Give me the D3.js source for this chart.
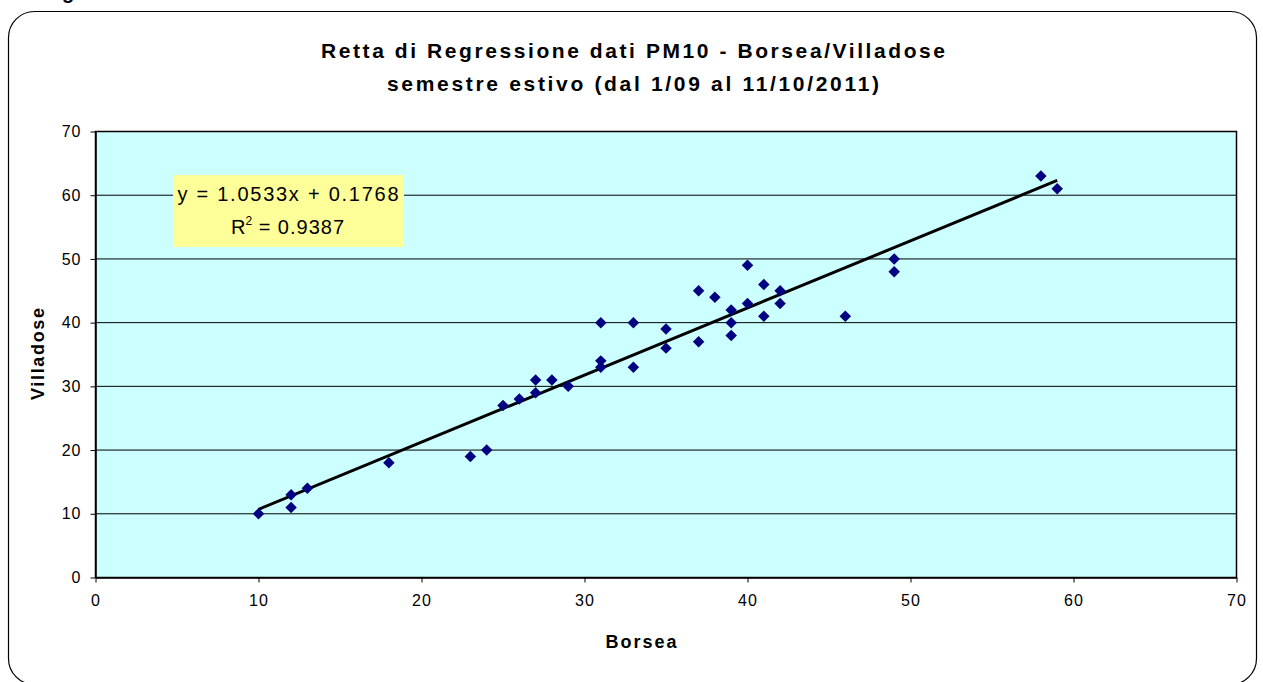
<!DOCTYPE html>
<html>
<head>
<meta charset="utf-8">
<script src="https://cdn.jsdelivr.net/npm/d3@7"></script>
<style>
  html, body { margin: 0; padding: 0; background: #fff; }
  svg { display: block; }
  text { font-family: Arial, "Liberation Sans", sans-serif; }
</style>
</head>
<body>
<svg id="chart" width="1263" height="682"></svg>
<script>
// ---- data ----
const titleLines = ["Retta di Regressione dati PM10 - Borsea/Villadose", "semestre estivo (dal 1/09 al 11/10/2011)"];
const xLabel = "Borsea";
const yLabel = "Villadose";
const borsea    = [10,12,12,13,18,23,24,25,26,27,27,28,29,31,31,31,33,33,35,35,37,37,38,39,39,39,40,40,41,41,42,42,46,49,49,58,59];
const villadose = [10,13,11,14,18,19,20,27,28,29,31,31,30,33,34,40,40,33,39,36,45,37,44,42,40,38,49,43,46,41,45,43,41,50,48,63,61];
const trendSlope = 1.0533;
const trendIntercept = 0.1768;
const trendR2 = 0.9387;
const xTicks = [0,10,20,30,40,50,60,70];
const yTicks = [0,10,20,30,40,50,60,70];

const svg = d3.select("#chart");

// cut-off text above the frame (only its descender is visible in the reference)
svg.append("text").attr("x", 62).attr("y", -1).attr("font-size", 20).attr("font-weight", "bold").text("g");

// outer rounded frame
svg.append("rect").attr("x", 8.5).attr("y", 11.5).attr("width", 1248).attr("height", 673)
  .attr("rx", 26).attr("ry", 26).attr("fill", "#fff").attr("stroke", "#000").attr("stroke-width", 1.2);

const x = d3.scaleLinear().domain([0, 70]).range([95.5, 1236.5]);
const y = d3.scaleLinear().domain([0, 70]).range([577.5, 131.5]);

// plot area
svg.append("rect").attr("x", x(0)).attr("y", y(70)).attr("width", x(70) - x(0)).attr("height", y(0) - y(70))
  .attr("fill", "#CCFFFF");

// gridlines
svg.append("g").selectAll("line").data(yTicks.filter(d => d > 0 && d < 70)).join("line")
  .attr("x1", x(0)).attr("x2", x(70)).attr("y1", d => y(d)).attr("y2", d => y(d))
  .attr("stroke", "#000").attr("stroke-width", 1);

// plot border
svg.append("rect").attr("x", x(0)).attr("y", y(70)).attr("width", x(70) - x(0)).attr("height", y(0) - y(70))
  .attr("fill", "none").attr("stroke", "#000").attr("stroke-width", 1.5);

// axes
const xAxis = svg.append("g").attr("transform", `translate(0,${y(0)})`)
  .call(d3.axisBottom(x).tickValues(xTicks).tickSize(5).tickSizeOuter(0).tickPadding(12));
const yAxis = svg.append("g").attr("transform", `translate(${x(0)},0)`)
  .call(d3.axisLeft(y).tickValues(yTicks).tickSize(5).tickSizeOuter(0).tickPadding(9));
[xAxis, yAxis].forEach(a => {
  a.select(".domain").attr("stroke", "#000").attr("stroke-width", 1.5);
  a.selectAll(".tick line").attr("stroke", "#000");
  a.selectAll(".tick text").attr("font-size", 16).attr("fill", "#000")
    .attr("font-family", "Arial, 'Liberation Sans', sans-serif").style("letter-spacing", "1px");
});

// trend line
const xmin = d3.min(borsea), xmax = d3.max(borsea);
const trendData = [xmin, xmax].map(v => [v, trendSlope * v + trendIntercept]);
svg.append("path").datum(trendData)
  .attr("d", d3.line().x(d => x(d[0])).y(d => y(d[1])))
  .attr("stroke", "#000").attr("stroke-width", 3).attr("fill", "none");

// points
const pts = borsea.map((b, i) => [b, villadose[i]]);
svg.append("g").selectAll("path").data(pts).join("path")
  .attr("d", d3.symbol(d3.symbolSquare, 66)())
  .attr("transform", d => `translate(${x(d[0])},${y(d[1])}) rotate(45)`)
  .attr("fill", "#000080");

// equation box
const eq = svg.append("g");
eq.append("rect").attr("x", 173).attr("y", 175).attr("width", 231).attr("height", 72).attr("fill", "#FFFF99");
eq.append("text").attr("x", 288).attr("y", 201).attr("text-anchor", "middle").attr("font-size", 20)
  .attr("textLength", 221).attr("lengthAdjust", "spacing")
  .text(`y = ${trendSlope.toFixed(4)}x + ${trendIntercept.toFixed(4)}`);
const r2 = eq.append("text").attr("x", 288).attr("y", 234).attr("text-anchor", "middle").attr("font-size", 20);
r2.append("tspan").text("R");
r2.append("tspan").attr("font-size", 12).attr("dy", -9).text("2");
r2.append("tspan").attr("dy", 9).text(` = ${trendR2.toFixed(4)}`).style("letter-spacing", "1px");

// title
svg.append("text").attr("x", 633).attr("y", 58).attr("text-anchor", "middle")
  .attr("font-size", 21).attr("font-weight", "bold").attr("textLength", 624).attr("lengthAdjust", "spacing")
  .text(titleLines[0]);
svg.append("text").attr("x", 633).attr("y", 91).attr("text-anchor", "middle")
  .attr("font-size", 21).attr("font-weight", "bold").attr("textLength", 492).attr("lengthAdjust", "spacing")
  .text(titleLines[1]);

// axis titles
svg.append("text").attr("x", 641).attr("y", 648).attr("text-anchor", "middle")
  .attr("font-size", 18).attr("font-weight", "bold").attr("textLength", 71).attr("lengthAdjust", "spacing")
  .text(xLabel);
svg.append("text").attr("transform", "translate(44,354) rotate(-90)").attr("text-anchor", "middle")
  .attr("font-size", 18).attr("font-weight", "bold").attr("textLength", 92).attr("lengthAdjust", "spacing")
  .text(yLabel);
</script>
</body>
</html>
